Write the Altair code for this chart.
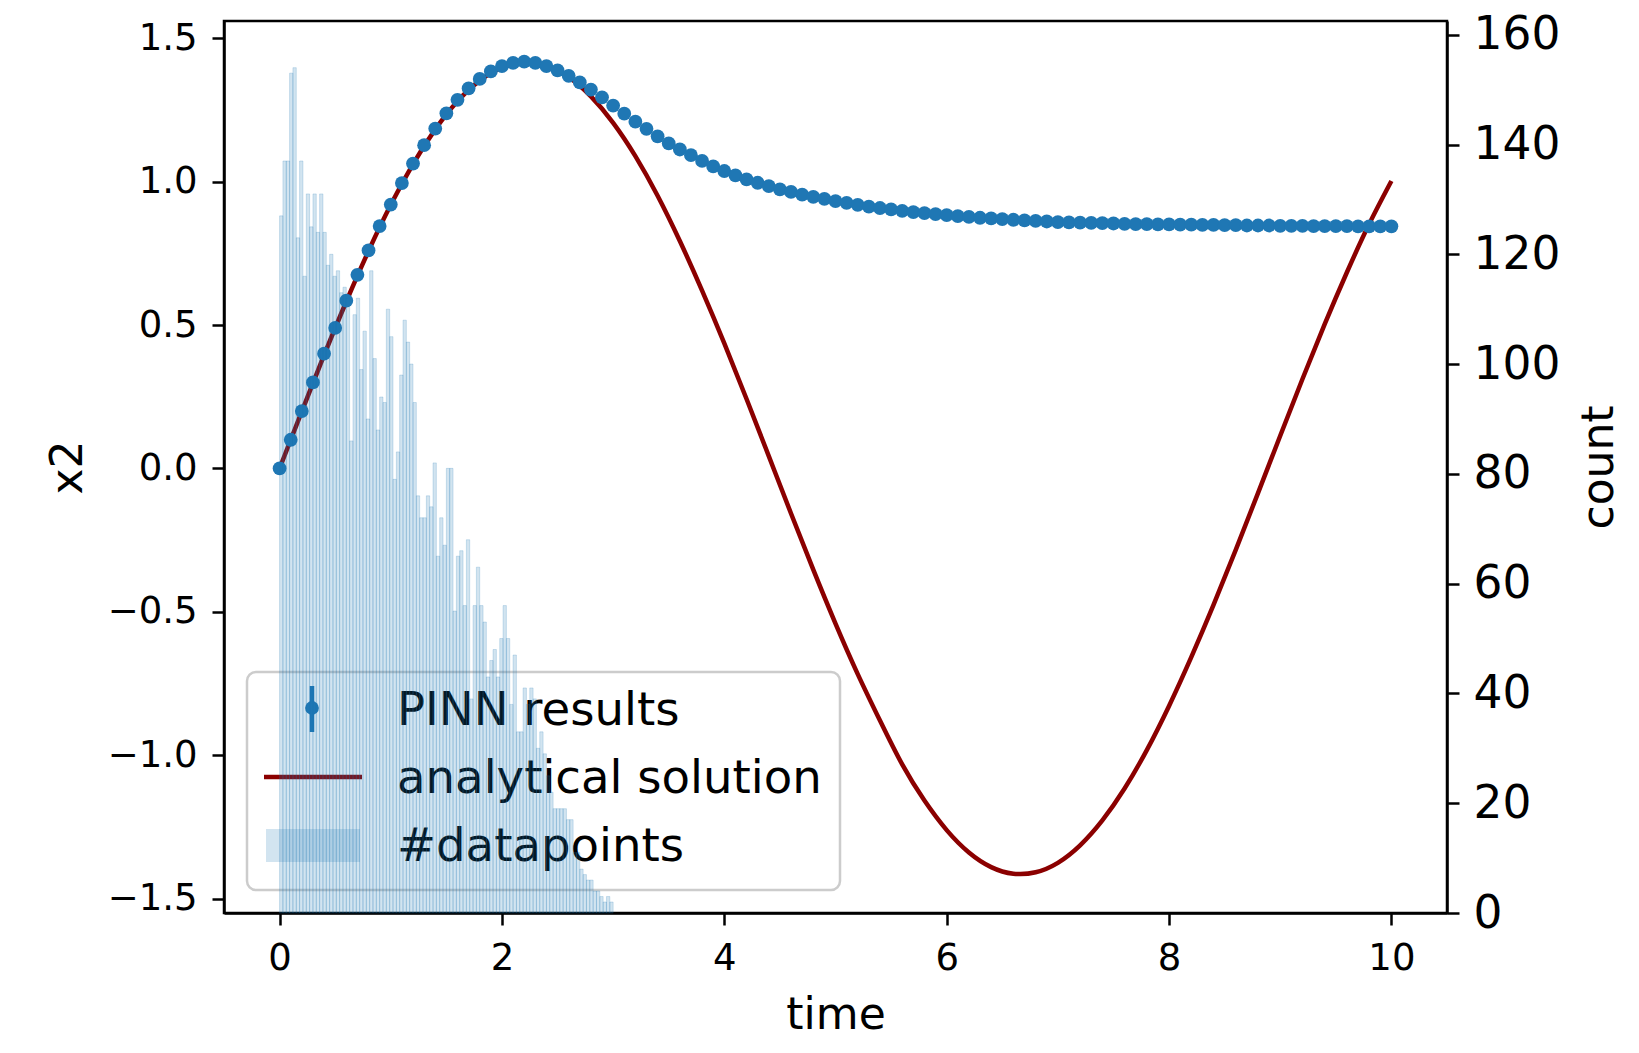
import altair as alt
import pandas as pd

# ---------------- data ----------------
# PINN results, t = 0.0 ... 10.0 step 0.1
pinn_t = [round(i * 0.1, 1) for i in range(101)]
pinn_v = [0.00, 0.10, 0.20, 0.30, 0.40, 0.49, 0.585, 0.675, 0.76, 0.845,
          0.92, 0.995, 1.063, 1.127, 1.185, 1.238, 1.285, 1.325, 1.358, 1.384,
          1.403, 1.414, 1.418, 1.414, 1.403, 1.388, 1.369, 1.346, 1.321, 1.294,
          1.265, 1.237, 1.209, 1.184, 1.158, 1.133, 1.112, 1.092, 1.072, 1.053,
          1.037, 1.022, 1.008, 0.996, 0.984, 0.973, 0.964, 0.955, 0.947, 0.940,
          0.932, 0.926, 0.919, 0.913, 0.908, 0.903, 0.898, 0.894, 0.890, 0.887,
          0.883, 0.880, 0.877, 0.874, 0.872, 0.869, 0.867, 0.865, 0.863, 0.861,
          0.859, 0.858, 0.857, 0.856, 0.855, 0.854, 0.853, 0.852, 0.852, 0.851,
          0.851, 0.850, 0.850, 0.849, 0.849, 0.848, 0.848, 0.847, 0.847, 0.847,
          0.846, 0.846, 0.846, 0.845, 0.845, 0.845, 0.845, 0.844, 0.844, 0.844,
          0.844]

# analytical solution, t = 0.0 ... 10.0 step 0.2
ana_t = [round(i * 0.2, 1) for i in range(51)]
ana_v = [0.000, 0.199, 0.395, 0.582, 0.758, 0.919, 1.061, 1.182, 1.280, 1.352,
         1.397, 1.414, 1.403, 1.364, 1.297, 1.205, 1.089, 0.951, 0.793, 0.620,
         0.436, 0.242, 0.043, -0.157, -0.353, -0.541, -0.717, -0.879, -1.032, -1.158,
         -1.261, -1.339, -1.390, -1.413, -1.408, -1.375, -1.314, -1.227, -1.116, -0.982,
         -0.828, -0.658, -0.476, -0.284, -0.086, 0.114, 0.312, 0.503, 0.684, 0.852,
         1.002]

# histogram of datapoints: 100 bins of width 0.03 over [0, 3]
bin_start = [round(i * 0.03, 2) for i in range(100)]
bin_end = [round((i + 1) * 0.03, 2) for i in range(100)]
counts = [127, 137, 137, 153, 154, 123, 137, 116, 131, 125,
          131, 124, 131, 124, 118, 120, 116, 117, 113, 114,
          112, 86, 109, 112, 99, 106, 90, 117, 101, 88,
          94, 93, 110, 105, 79, 84, 98, 108, 104, 100,
          93, 76, 72, 72, 76, 74, 82, 65, 72, 67,
          81, 81, 55, 65, 66, 56, 68, 39, 56, 63,
          56, 53, 43, 46, 48, 43, 50, 56, 50, 38,
          47, 33, 33, 41, 38, 41, 39, 30, 33, 29,
          25, 22, 19, 19, 19, 19, 17, 17, 11, 11,
          8, 7, 6, 6, 4, 4, 3, 2, 3, 2]

legend_labels = ["PINN results", "analytical solution", "#datapoints"]

# ---------------- chart ----------------
FONT = "DejaVu Sans"
BLUE = "#1f77b4"
RED = "#8b0000"
W, H = 1223, 892

pinn_df = pd.DataFrame({"t": pinn_t, "v": pinn_v})
ana_df = pd.DataFrame({"t": ana_t, "v": ana_v})
hist_df = pd.DataFrame({"t": bin_start, "t2": bin_end, "c": counts})
one = pd.DataFrame({"a": [0]})

common = dict(tickWidth=2.5, domainWidth=2.5, tickSize=12,
              domainColor="black", tickColor="black", labelColor="black",
              titleColor="black", titleFontWeight="normal", grid=False,
              labelFont=FONT, titleFont=FONT, labelFlush=False, labelOverlap=False)

x_scale = alt.Scale(domain=[-0.5, 10.5], nice=False, zero=False)
x_axis = alt.Axis(values=[0, 2, 4, 6, 8, 10], format="d", title="time",
                  labelFontSize=37, titleFontSize=44, labelBaseline="alphabetic",
                  labelPadding=44,
                  titleX=W / 2, titleY=115, titleBaseline="alphabetic",
                  titleAlign="center", **common)

y_left_scale = alt.Scale(domain=[-1.55, 1.56], nice=False, zero=False)
y_left_axis = alt.Axis(values=[-1.5, -1.0, -0.5, 0.0, 0.5, 1.0, 1.5], format=".1f",
                       title="x2", labelFontSize=37, titleFontSize=44,
                       labelPadding=15,
                       titleX=-156, titleY=H / 2, titleAngle=270,
                       titleBaseline="middle", titleAlign="center", **common)

y_right_scale = alt.Scale(domain=[0, 162.5], nice=False, zero=True)
y_right_axis = alt.Axis(orient="right", values=list(range(0, 161, 20)), format="d",
                        title="count", labelFontSize=45.5, titleFontSize=44,
                        labelPadding=14,
                        titleX=152, titleY=H / 2, titleAngle=270,
                        titleBaseline="middle", titleAlign="center", **common)

line = alt.Chart(ana_df).mark_line(color=RED, strokeWidth=4.5,
                                   interpolate="natural").encode(
    x=alt.X("t:Q", scale=x_scale, axis=x_axis),
    y=alt.Y("v:Q", scale=y_left_scale, axis=y_left_axis),
)

points = alt.Chart(pinn_df).mark_circle(color=BLUE, size=190, opacity=1).encode(
    x=alt.X("t:Q", scale=x_scale, axis=x_axis),
    y=alt.Y("v:Q", scale=y_left_scale, axis=y_left_axis),
)

# legend (drawn beneath the histogram, as in the reference)
lg_box = alt.Chart(one).mark_rect(cornerRadius=9, fill="white", fillOpacity=0.8,
                                  stroke="#cccccc", strokeWidth=2.5).encode(
    x=alt.value(23), x2=alt.value(616), y=alt.value(651), y2=alt.value(869))
lg_err = alt.Chart(one).mark_rule(color=BLUE, strokeWidth=4.5).encode(
    x=alt.value(88), y=alt.value(665), y2=alt.value(711))
lg_pt = alt.Chart(one).mark_circle(color=BLUE, size=190, opacity=1).encode(
    x=alt.value(88), y=alt.value(687))
lg_line = alt.Chart(one).mark_rule(color=RED, strokeWidth=4.5).encode(
    x=alt.value(40), x2=alt.value(138), y=alt.value(756))
lg_patch = alt.Chart(one).mark_rect(fill=BLUE, fillOpacity=0.2).encode(
    x=alt.value(42), x2=alt.value(136), y=alt.value(808), y2=alt.value(841))
lg_texts = [
    alt.Chart(one).mark_text(text=txt, font=FONT, fontSize=46.6, color="black",
                             align="left", baseline="alphabetic").encode(
        x=alt.value(173), y=alt.value(yy))
    for txt, yy in zip(legend_labels, [704, 772, 840])
]

left = alt.layer(line, points, lg_box, lg_err, lg_pt, lg_line, lg_patch, *lg_texts)

bars = alt.Chart(hist_df).mark_rect(fill=BLUE, fillOpacity=0.2, stroke=BLUE,
                                    strokeOpacity=0.2, strokeWidth=1).encode(
    x=alt.X("t:Q", scale=x_scale, axis=x_axis),
    x2="t2:Q",
    y=alt.Y("c:Q", scale=y_right_scale, axis=y_right_axis),
    y2=alt.datum(0),
)

chart = alt.layer(left, bars).resolve_scale(y="independent").properties(
    width=W, height=H,
    autosize=alt.AutoSizeParams(type="none"),
    padding={"left": 224, "top": 21, "right": 192, "bottom": 140},
).configure(font=FONT).configure_view(stroke="black", strokeWidth=2.5)

chart.save("out.html", embed_options={"renderer": "svg", "actions": False})
